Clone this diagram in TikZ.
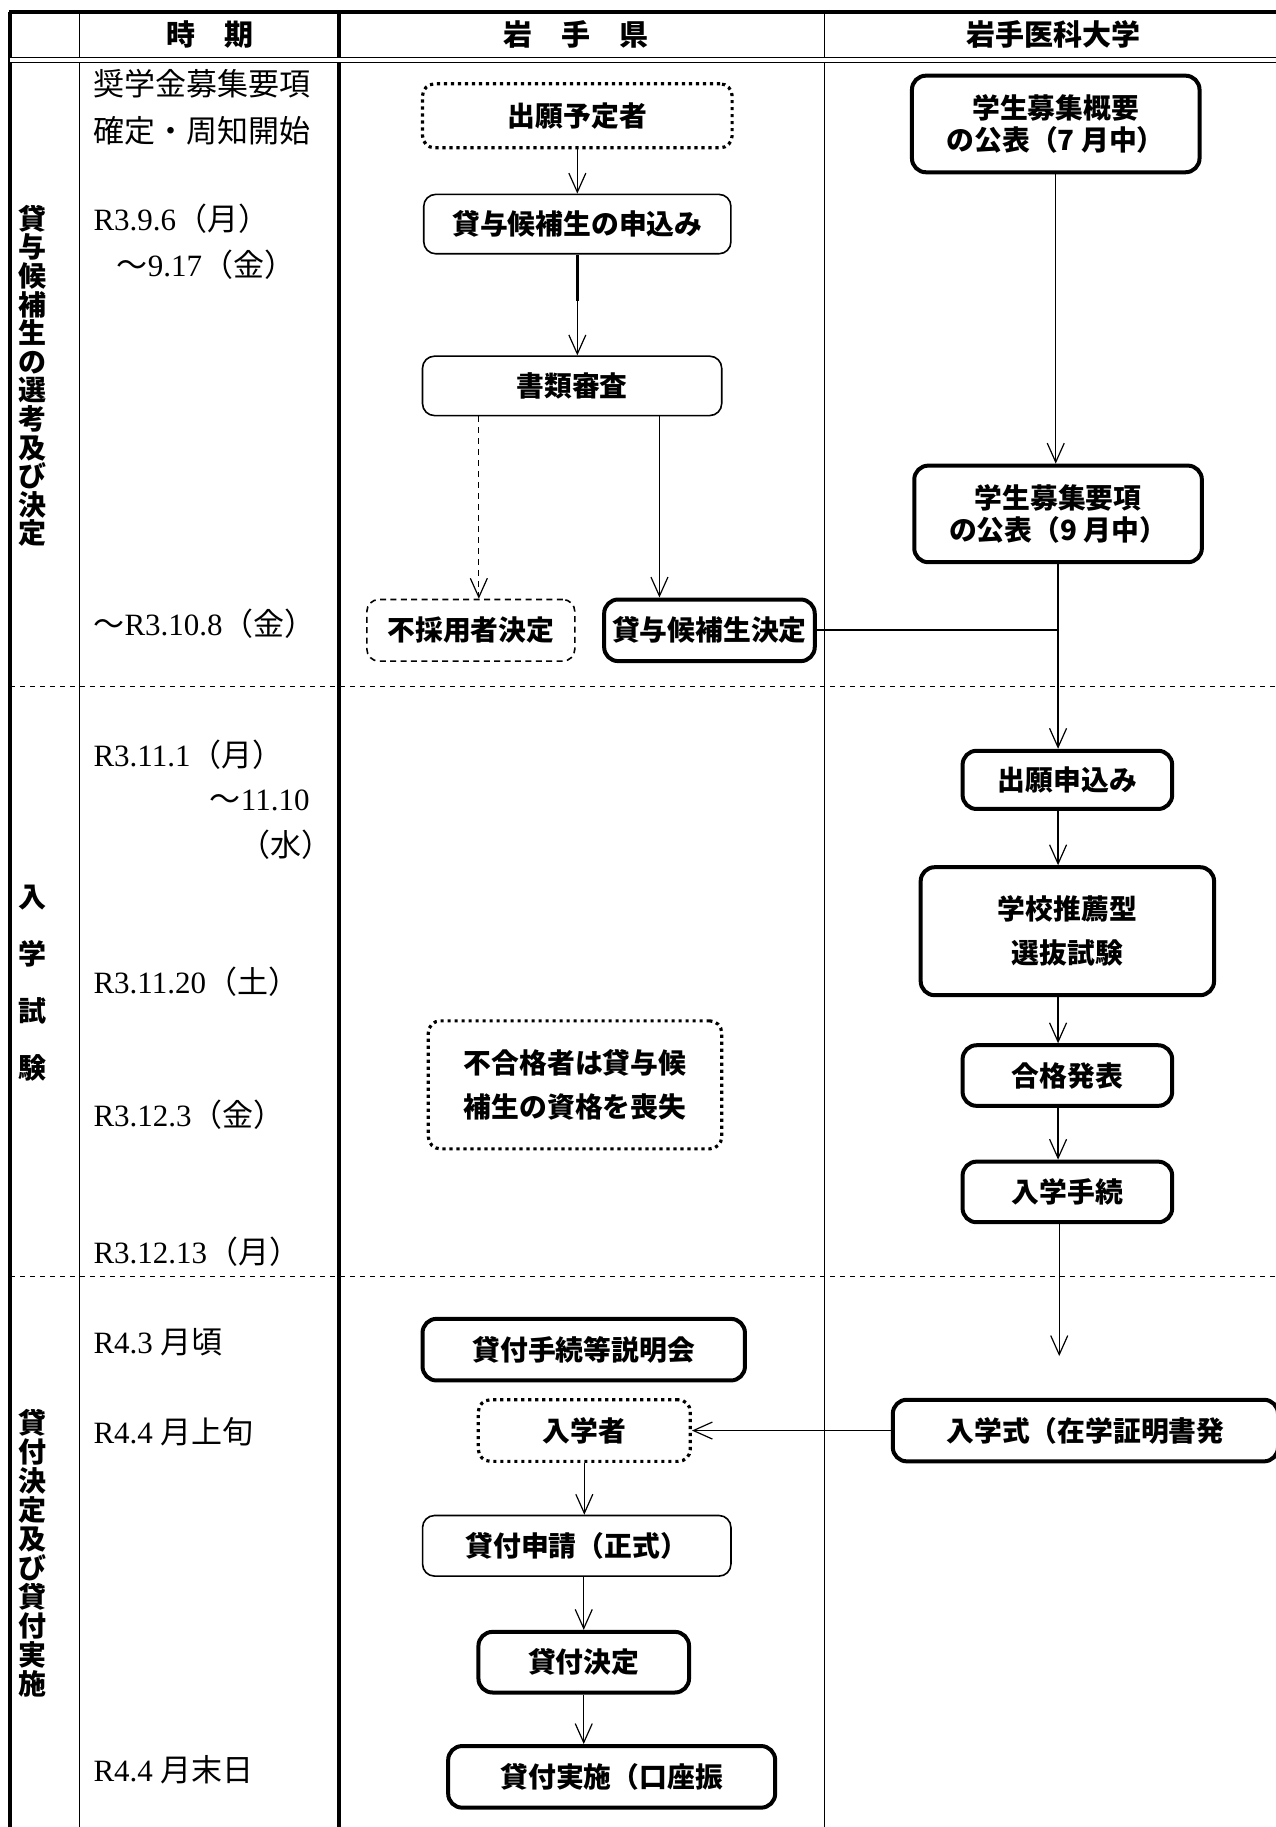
\documentclass[tikz,border=0pt]{standalone}
\usepackage{fontspec}
\setmainfont{Liberation Serif}
\newfontfamily\jp{Noto Sans CJK JP}
\newcommand\J[1]{{\jp #1}}
\usetikzlibrary{arrows.meta,shapes,positioning}
\tikzstyle{arrow}=[->,>={Straight Barb[length=9.5pt,width=8.5pt]},line width=.6pt]
\tikzstyle{box}=[draw,rounded corners=6pt,line width=.8pt,inner sep=0pt,align=center,font=\jp\bfseries\fontsize{13.9pt}{16pt}\selectfont]
\tikzstyle{boldbox}=[box,line width=2pt,rounded corners=7pt]
\tikzstyle{dotbox}=[box,line width=1.6pt,dash pattern=on 1.6pt off 1.9pt]
\tikzstyle{dashbox}=[box,dash pattern=on 3pt off 2.2pt]
\tikzstyle{date}=[anchor=west,inner sep=0pt,font=\fontsize{15.5pt}{18pt}\selectfont]
\tikzstyle{head}=[inner sep=0pt,font=\jp\bfseries\fontsize{14.5pt}{17pt}\selectfont]
\tikzstyle{vlabel}=[align=center,inner sep=0pt,font=\jp\bfseries\fontsize{14pt}{14.3pt}\selectfont]
\tikzstyle{grid}=[line width=.6pt]
\tikzstyle{sep}=[line width=.5pt,dash pattern=on 2.5pt off 2.5pt]

\begin{document}
\begin{tikzpicture}[x=.582pt,y=-.582pt]
	\useasboundingbox (0,0) rectangle (1095.4,1569.6);

	%table
	\draw[line width=2pt] (8,10) -- (1100,10);
	\draw[line width=2pt] (9,10) -- (9,1575);
	\draw[grid] (68,10) -- (68,1575);
	\draw[line width=2pt] (291,10) -- (291,1575);
	\draw[grid] (708,10) -- (708,1575);
	\draw[double,double distance=1.6pt,line width=.5pt] (9,51.5) -- (1100,51.5);
	\draw[sep] (9,590) -- (1100,590);
	\draw[sep] (9,1097) -- (1100,1097);

	\node[head] (hjiki) at (180,30) {時　期};
	\node[head] (hken) at (495,30) {岩　手　県};
	\node[head] (hidai) at (905,30) {岩手医科大学};

	\node[vlabel] (sec1) at (28,323) {貸\\与\\候\\補\\生\\の\\選\\考\\及\\び\\決\\定};
	\node[vlabel,font=\jp\bfseries\fontsize{14pt}{28.5pt}\selectfont] (sec2) at (28,844.5) {入\\学\\試\\験};
	\node[vlabel,font=\jp\bfseries\fontsize{14pt}{14.5pt}\selectfont] (sec3) at (28,1334.5) {貸\\付\\決\\定\\及\\び\\貸\\付\\実\\施};

	%dates
	\node[date] (t1) at (80,72) {\J{奨学金募集要項}};
	\node[date] (t2) at (80,112) {\J{確定・周知開始}};
	\node[date] (t3) at (80,188) {R3.9.6\J{（月）}};
	\node[date] (t4) at (100,227) {\J{～}9.17\J{（金）}};
	\node[date] (t5) at (80,536) {\J{～}R3.10.8\J{（金）}};
	\node[date] (t6) at (80,648) {R3.11.1\J{（月）}};
	\node[date] (t7) at (180,688) {\J{～}11.10};
	\node[date] (t8) at (205,726) {\J{（水）}};
	\node[date] (t9) at (80,843) {R3.11.20\J{（土）}};
	\node[date] (t10) at (80,958) {R3.12.3\J{（金）}};
	\node[date] (t11) at (80,1075) {R3.12.13\J{（月）}};
	\node[date] (t12) at (80,1153) {R4.3 \J{月頃}};
	\node[date] (t13) at (80,1230) {R4.4 \J{月上旬}};
	\node[date] (t14) at (80,1520) {R4.4 \J{月末日}};

	%iwate
	\node[dotbox,minimum width=154.8pt,minimum height=32pt] (yotei) at (496,99.5) {出願予定者};
	\node[box,minimum width=153.6pt,minimum height=29.7pt] (moushi) at (496,192.5) {貸与候補生の申込み};
	\node[box,minimum width=149.6pt,minimum height=29.7pt] (shinsa) at (491.5,331.5) {書類審査};
	\node[dashbox,minimum width=104pt,minimum height=30.8pt] (fusaiyo) at (404.5,541.5) {不採用者決定};
	\node[boldbox,minimum width=105.3pt,minimum height=30.8pt] (kohosei) at (609.5,541.5) {貸与候補生決定};
	\node[dotbox,minimum width=146.7pt,minimum height=64pt,font=\jp\bfseries\fontsize{13.9pt}{22pt}\selectfont] (fugokaku) at (494,932) {不合格者は貸与候\\補生の資格を喪失};
	\node[boldbox,minimum width=161.2pt,minimum height=30.8pt] (setsumei) at (501.5,1159.5) {貸付手続等説明会};
	\node[dotbox,minimum width=106pt,minimum height=30.8pt] (nyugakusha) at (502,1229) {入学者};
	\node[box,minimum width=154.2pt,minimum height=30.3pt] (shinsei) at (495.5,1328) {貸付申請（正式）};
	\node[boldbox,minimum width=105.3pt,minimum height=30.3pt] (kettei) at (501.5,1428) {貸付決定};
	\node[boldbox,minimum width=163.5pt,minimum height=30.8pt] (jisshi) at (525.5,1526.5) {貸付実施（口座振};

	%idai
	\node[boldbox,minimum width=143.8pt,minimum height=48.3pt] (gaiyo) at (907,106.5) {学生募集概要\\の公表（7 月中）};
	\node[boldbox,minimum width=143.8pt,minimum height=48.3pt] (yoko) at (909,441.5) {学生募集要項\\の公表（9 月中）};
	\node[boldbox,minimum width=104.8pt,minimum height=29.1pt] (shutsugan) at (917,670) {出願申込み};
	\node[boldbox,minimum width=146.7pt,minimum height=64pt,font=\jp\bfseries\fontsize{13.9pt}{22pt}\selectfont] (senbatsu) at (917,800) {学校推薦型\\選抜試験};
	\node[boldbox,minimum width=104.8pt,minimum height=30.3pt] (happyo) at (917,924) {合格発表};
	\node[boldbox,minimum width=104.8pt,minimum height=30.3pt] (tetsuzuki) at (917,1024) {入学手続};
	\node[boldbox,minimum width=192.6pt,minimum height=30.8pt] (shiki) at (932.5,1229) {入学式（在学証明書発};
	\coordinate (free) at (910,1165);

	%arrows
	\draw[arrow] (yotei.south) -- (yotei.south |- moushi.north);
	\draw[line width=1.3pt] (moushi.south) -- ++(0,40);
	\draw[arrow] (moushi.south) -- (moushi.south |- shinsa.north);
	\draw[arrow,dash pattern=on 3pt off 2.5pt] ([xshift=4pt]fusaiyo.north |- shinsa.south) -- ([xshift=4pt]fusaiyo.north);
	\draw[arrow] ([xshift=-25pt]kohosei.north |- shinsa.south) -- ([xshift=-25pt]kohosei.north);
	\draw[arrow] (gaiyo.south) -- (gaiyo.south |- yoko.north);
	\draw[line width=.9pt] (kohosei.east) -- (kohosei.east -| yoko.south);
	\draw[arrow] (yoko.south) -- (yoko.south |- shutsugan.north);
	\draw[arrow] (shutsugan.south -| yoko.south) -- (senbatsu.north -| yoko.south);
	\draw[arrow] (senbatsu.south -| yoko.south) -- (happyo.north -| yoko.south);
	\draw[arrow] (happyo.south -| yoko.south) -- (tetsuzuki.north -| yoko.south);
	\draw[arrow] (tetsuzuki.south -| free) -- (free);
	\draw[arrow] (shiki.west) -- (nyugakusha.east);
	\draw[arrow] (nyugakusha.south) -- (nyugakusha.south |- shinsei.north);
	\draw[arrow] (shinsei.south -| kettei.south) -- (kettei.north);
	\draw[arrow] (kettei.south) -- (kettei.south |- jisshi.north);
\end{tikzpicture}
\end{document}
